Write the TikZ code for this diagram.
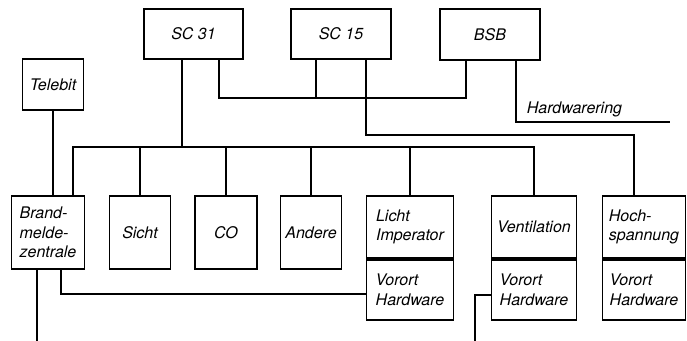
\documentclass[tikz,border=0pt]{standalone}
\usepackage{fontspec}
\setmainfont{TeX Gyre Heros}
\usetikzlibrary{calc}

\begin{document}
\begin{tikzpicture}[x=0.5pt, y=-0.5pt, line width=0.85pt,
  font=\fontsize{8}{9.75}\selectfont\itshape,
  every node/.style={align=left, inner sep=2pt},
  box/.style={draw},
  topbox/.style={box, minimum width=50pt, minimum height=25pt},
  sensor/.style={box, minimum height=36.5pt},
  unit/.style={box, minimum height=31pt},
  local/.style={box, minimum height=30pt, anchor=north}]
  \useasboundingbox (0,0) rectangle (687,341);
  \node[topbox, minimum width=49.5pt] (sc31) at (193.5,34) {SC 31};
  \node[topbox] (sc15) at (341,34) {SC 15};
  \node[topbox, minimum height=25.5pt] (bsb) at (490,34.5) {BSB};
  \node[box, minimum width=30.5pt, minimum height=25.5pt] (telebit) at (53,84.5) {Telebit};
  \node[sensor, minimum width=36.5pt] (bmz) at (48,232.5) {Brand-\\melde-\\zentrale};
  \node[sensor, minimum width=30.5pt] (sicht) at (140,232.5) {Sicht};
  \node[sensor, minimum width=31pt] (co) at (226,232.5) {CO};
  \node[sensor, minimum width=30.5pt] (andere) at (311,232.5) {Andere};
  \node[unit, minimum width=43.5pt] (licht) at (410,227) {Licht\\Imperator};
  \node[local, minimum width=43.5pt] (lichtvh) at (licht.south) {Vorort\\Hardware};
  \node[unit, minimum width=42.5pt] (vent) at (534,227) {Ventilation};
  \node[local, minimum width=42.5pt] (ventvh) at (vent.south) {Vorort\\Hardware};
  \node[unit, minimum width=41.5pt] (hoch) at (644,227) {Hoch-\\spannung};
  \node[local, minimum width=41.5pt] (hochvh) at (hoch.south) {Vorort\\Hardware};

  \coordinate (bus) at (182,147);
  \coordinate (bmztap) at (73,147);
  \coordinate (lan) at (219,98);
  \coordinate (lan15) at (316,98);
  \coordinate (lanbsb) at (466,98);
  \coordinate (hv) at (366,135);
  \coordinate (hvtap) at (634,135);
  \coordinate (ring) at (516,122);
  \coordinate (ringend) at (670,122);
  \coordinate (bmzout) at (37,341);
  \coordinate (bmzhw) at (61,294);
  \coordinate (venthw) at (475,295);
  \coordinate (ventout) at (475,341);

  \draw (sc31.south -| bus) -- (bus);
  \draw (bmztap |- bmz.north) -- (bmztap) -- (bus -| vent.north) -- (vent.north);
  \foreach \n in {sicht,co,andere,licht}
    \draw (\n.north) -- (\n.north |- bus);
  \draw (telebit.south) -- (telebit.south |- bmz.north);
  \draw (lan |- sc31.south) -- (lan) -- (lanbsb) -- (lanbsb |- bsb.south);
  \draw (lan15 |- sc15.south) -- (lan15);
  \draw (hv |- sc15.south) -- (hv) -- (hvtap) -- (hvtap |- hoch.north);
  \draw (ring |- bsb.south) -- (ring) -- (ringend)
    node[pos=0, above right, xshift=3pt] {Hardwarering};
  \draw (bmzout |- bmz.south) -- (bmzout);
  \draw (bmzhw |- bmz.south) -- (bmzhw) -- (bmzhw -| lichtvh.west);
  \draw (venthw -| ventvh.west) -- (venthw) -- (ventout);
\end{tikzpicture}
\end{document}
